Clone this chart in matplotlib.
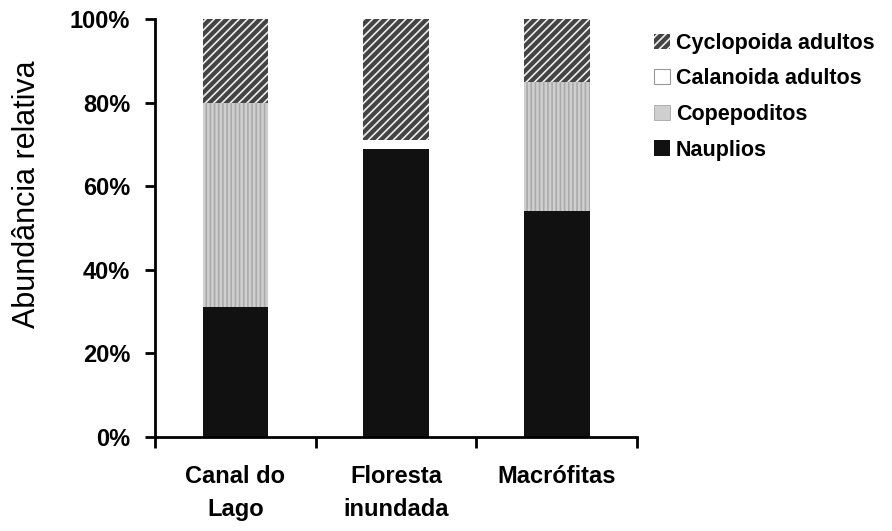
import numpy as np
import matplotlib.pyplot as plt
from matplotlib.patches import Patch

categorias = ["Canal do\nLago", "Floresta\ninundada", "Macrófitas"]
nauplios = [31, 69, 54]
copepoditos = [49, 0, 31]
calanoida = [0, 2, 0]
cyclopoida = [20, 29, 15]

plt.rcParams['font.family'] = ['Liberation Sans', 'DejaVu Sans']
plt.rcParams['hatch.linewidth'] = 1.2

fig = plt.figure(figsize=(8.92, 5.31), dpi=100)
ax = fig.add_axes([0.174, 0.177, 0.54, 0.787])

x = np.arange(len(categorias))
w = 0.41
base = np.zeros(len(categorias))

ax.bar(x, nauplios, w, bottom=base, color='#111111', linewidth=0)
base += nauplios
plt.rcParams['hatch.color'] = '#aaaaaa'
ax.bar(x, copepoditos, w, bottom=base, color='#cfcfcf', hatch='||||', linewidth=0)
base += copepoditos
ax.bar(x, calanoida, w, bottom=base, color='white', linewidth=0)
base += calanoida
plt.rcParams['hatch.color'] = '#eeeeee'
ax.bar(x, cyclopoida, w, bottom=base, color='#444444', hatch='////', linewidth=0)

ax.set_xlim(-0.5, 2.5)
ax.set_ylim(0, 100)
ax.set_yticks(np.arange(0, 101, 20))
ax.set_yticklabels([f"{v}%" for v in range(0, 101, 20)], fontsize=17, fontweight='bold')
ax.set_xticks([-0.5, 0.5, 1.5, 2.5])
ax.set_xticklabels([])
ax.set_xticks(x, minor=True)
ax.set_xticklabels(categorias, minor=True, fontsize=17, fontweight='bold', linespacing=1.55)
ax.tick_params(axis='x', which='minor', length=0, pad=20)
ax.tick_params(axis='x', which='major', length=8, width=2, direction='out')
ax.tick_params(axis='y', length=7, width=2, direction='out', pad=11)
for s in ['top', 'right']:
    ax.spines[s].set_visible(False)
for s in ['left', 'bottom']:
    ax.spines[s].set_linewidth(2)
ax.set_ylabel("Abundância relativa", fontsize=22)
ax.yaxis.set_label_coords(-0.235, 0.58)

handles = [
    Patch(facecolor='#444444', hatch='////', edgecolor='#eeeeee', linewidth=0, label='Cyclopoida adultos'),
    Patch(facecolor='white', edgecolor='#999999', linewidth=0.8, label='Calanoida adultos'),
    Patch(facecolor='#cfcfcf', edgecolor='#999999', linewidth=0.5, label='Copepoditos'),
    Patch(facecolor='#111111', label='Nauplios'),
]
fig.legend(handles=handles, loc='upper left', bbox_to_anchor=(0.712, 0.975), frameon=False,
           prop={'size': 15.5, 'weight': 'bold'}, handlelength=0.7, handleheight=0.7,
           handletextpad=0.3, labelspacing=0.68)

fig.savefig("out.png", dpi=100)
